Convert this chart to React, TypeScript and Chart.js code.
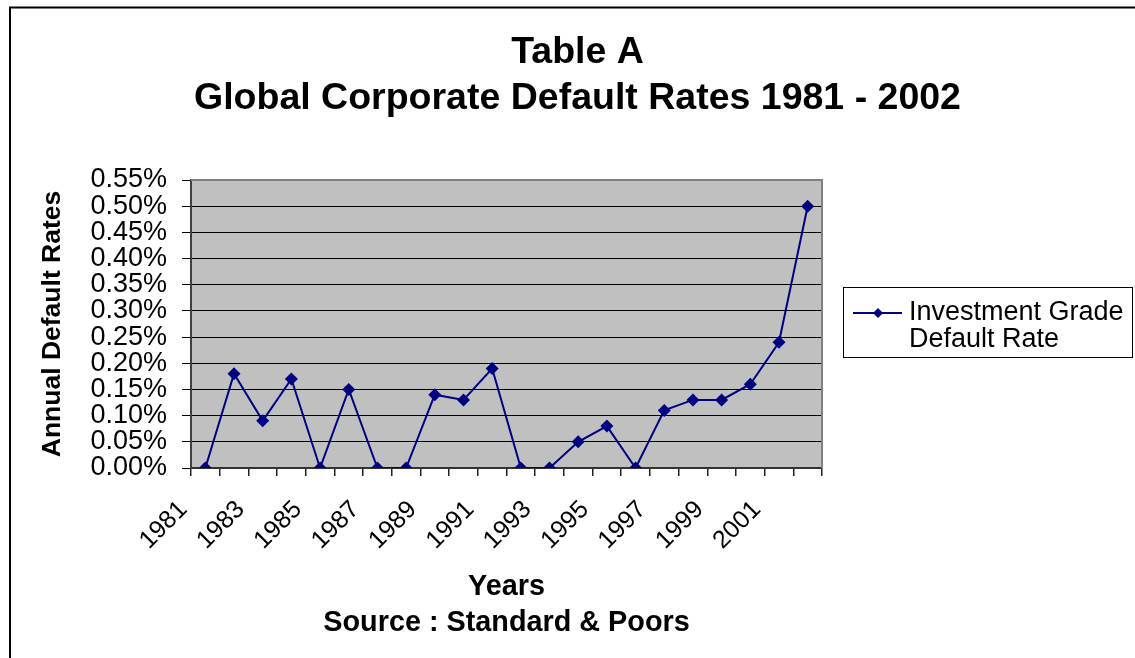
import React, { useEffect, useRef } from 'react';
import { Chart, registerables } from 'chart.js';

Chart.register(...registerables);

const YEARS = ['1981', '1982', '1983', '1984', '1985', '1986', '1987', '1988', '1989', '1990', '1991', '1992', '1993', '1994', '1995', '1996', '1997', '1998', '1999', '2000', '2001', '2002'];
const DEFAULT_RATES = [0, 0.18, 0.09, 0.17, 0, 0.15, 0, 0, 0.14, 0.13, 0.19, 0, 0, 0.05, 0.08, 0, 0.11, 0.13, 0.13, 0.16, 0.24, 0.5];
const TITLE_LINES = ['Table A', 'Global Corporate Default Rates 1981 - 2002'];
const X_TITLE_LINES = ['Years', 'Source : Standard & Poors'];
const Y_TITLE = 'Annual Default Rates';
const LEGEND_LINES = ['Investment Grade', 'Default Rate'];
const Y_MIN = 0;
const Y_MAX = 0.55;
const Y_STEP = 0.05;

const FONT = "'Liberation Sans', Arial, Helvetica, sans-serif";
const LINE_COLOR = '#000080';

const framePlugin = {
  id: 'frame',
  beforeDraw(chart: any) {
    const { ctx, chartArea } = chart;
    ctx.save();
    ctx.fillStyle = '#ffffff';
    ctx.fillRect(0, 0, chart.width, chart.height);
    ctx.strokeStyle = '#000000';
    ctx.lineWidth = 2;
    ctx.strokeRect(10, 7.5, 1400, 900);
    ctx.fillStyle = '#C0C0C0';
    ctx.fillRect(chartArea.left, chartArea.top, chartArea.right - chartArea.left, chartArea.bottom - chartArea.top);
    ctx.restore();
  },
  beforeDatasetsDraw(chart: any) {
    const { ctx, chartArea } = chart;
    ctx.save();
    ctx.strokeStyle = '#808080';
    ctx.lineWidth = 2;
    ctx.beginPath();
    ctx.moveTo(chartArea.left, chartArea.top);
    ctx.lineTo(chartArea.right, chartArea.top);
    ctx.lineTo(chartArea.right, chartArea.bottom);
    ctx.stroke();
    ctx.restore();
  },
};

const legendPlugin = {
  id: 'customLegend',
  afterDraw(chart: any) {
    const { ctx, chartArea } = chart;
    const ds = chart.data.datasets[0];
    const x0 = Math.round(chartArea.right + 21);
    const w = 289;
    const h = 70;
    const y0 = Math.round((chartArea.top + chartArea.bottom) / 2 - h / 2 - 2);
    ctx.save();
    ctx.fillStyle = '#ffffff';
    ctx.fillRect(x0, y0, w, h);
    ctx.strokeStyle = '#000000';
    ctx.lineWidth = 1;
    ctx.strokeRect(x0 + 0.5, y0 + 0.5, w, h);
    const ly = y0 + 26;
    ctx.strokeStyle = ds.borderColor;
    ctx.lineWidth = 2;
    ctx.beginPath();
    ctx.moveTo(x0 + 10, ly);
    ctx.lineTo(x0 + 59, ly);
    ctx.stroke();
    ctx.fillStyle = ds.backgroundColor;
    const cx = x0 + 35;
    const r = 5;
    ctx.beginPath();
    ctx.moveTo(cx, ly - r);
    ctx.lineTo(cx + r, ly);
    ctx.lineTo(cx, ly + r);
    ctx.lineTo(cx - r, ly);
    ctx.closePath();
    ctx.fill();
    ctx.fillStyle = '#000000';
    ctx.font = `27px ${FONT}`;
    ctx.textBaseline = 'middle';
    ctx.textAlign = 'left';
    LEGEND_LINES.forEach((t, i) => ctx.fillText(t, x0 + 66, ly + i * 27));
    ctx.restore();
  },
};

export default function App() {
  const ref = useRef<HTMLCanvasElement>(null);
  useEffect(() => {
    Chart.defaults.font.family = FONT;
    Chart.defaults.color = '#000000';
    const chart = new Chart(ref.current as HTMLCanvasElement, {
      type: 'line',
      data: {
        labels: YEARS,
        datasets: [
          {
            label: LEGEND_LINES.join(' '),
            data: DEFAULT_RATES,
            borderColor: LINE_COLOR,
            backgroundColor: LINE_COLOR,
            borderWidth: 2,
            pointStyle: 'rectRot',
            pointRadius: 6.5,
            pointBorderWidth: 0,
            pointBackgroundColor: LINE_COLOR,
            tension: 0,
            yAxisID: 'y',
          },
        ],
      },
      options: {
        animation: false,
        responsive: false,
        layout: { padding: 0 },
        plugins: {
          legend: { display: false },
          tooltip: { enabled: false },
          title: {
            display: true,
            text: TITLE_LINES,
            color: '#000000',
            font: { family: FONT, size: 37.5, weight: 'bold', lineHeight: 46 / 37.5 },
            padding: { top: 30, bottom: 58 },
          },
        },
        scales: {
          x: {
            type: 'category',
            offset: true,
            grid: { offset: true, drawOnChartArea: false, drawTicks: true, tickLength: 8, color: '#222222', lineWidth: 1.5 },
            border: { color: '#333333', width: 2 },
            ticks: {
              autoSkip: false,
              minRotation: 45,
              maxRotation: 45,
              padding: 19,
              labelOffset: -22,
              color: '#000000',
              font: { family: FONT, size: 25 },
              callback: (_v: any, i: number) => (i % 2 === 0 ? YEARS[i] : ''),
            },
            title: {
              display: true,
              text: X_TITLE_LINES,
              color: '#000000',
              font: { family: FONT, size: 28.8, weight: 'bold', lineHeight: 36 / 28.8 },
              padding: { top: 0, bottom: 17 },
            },
            afterFit: (s: any) => {
              s.height = 190;
            },
          },
          y: {
            type: 'linear',
            position: 'left',
            min: Y_MIN,
            max: Y_MAX,
            grid: { color: '#000000', lineWidth: 1, tickLength: 9 },
            border: { color: '#404040', width: 2 },
            ticks: {
              stepSize: Y_STEP,
              autoSkip: false,
              maxTicksLimit: 20,
              padding: 15,
              color: '#000000',
              font: { family: FONT, size: 27 },
              callback: (v: any) => `${Number(v).toFixed(2)}%`,
            },
            title: {
              display: true,
              text: Y_TITLE,
              color: '#000000',
              font: { family: FONT, size: 26.5, weight: 'bold', lineHeight: 1.2 },
              padding: { top: 37, bottom: 0 },
            },
            afterFit: (s: any) => {
              s.width = 191;
            },
          },
          legendSpace: {
            type: 'linear',
            position: 'right',
            display: true,
            grid: { display: false, drawTicks: false },
            border: { display: false },
            ticks: { display: false },
            afterFit: (s: any) => {
              s.width = 333;
            },
          },
        },
      } as any,
      plugins: [framePlugin, legendPlugin],
    });
    return () => chart.destroy();
  }, []);

  return (
    <div style={{ position: 'absolute', left: 0, top: 0, width: 1135, height: 658, overflow: 'hidden', background: '#ffffff' }}>
      <canvas ref={ref} width={1155} height={658} style={{ display: 'block', width: 1155, height: 658 }} />
    </div>
  );
}
